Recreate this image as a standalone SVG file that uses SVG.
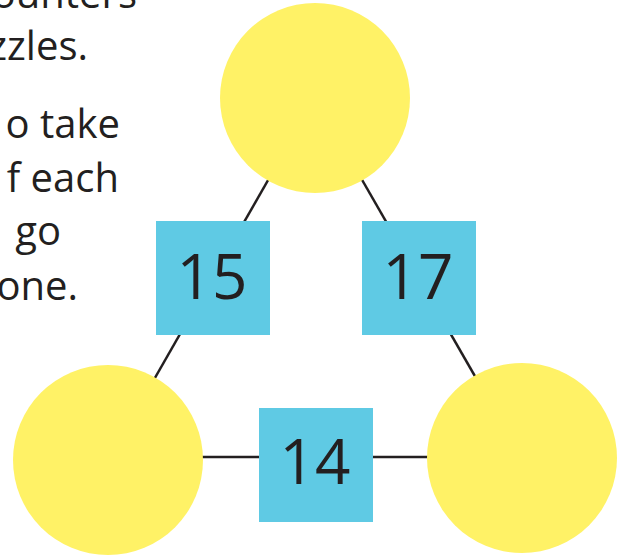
<svg xmlns="http://www.w3.org/2000/svg" width="625" height="555" viewBox="0 0 625 555">
<style>
.c{fill:#FFF266}
.b{fill:#5FCAE4}
.n{font-family:"Open Sans","Liberation Sans",sans-serif;font-size:62px;fill:#231F20;text-anchor:middle}
.t{font-family:"Open Sans","Liberation Sans",sans-serif;font-size:40px;fill:#231F20;text-anchor:end}
.l{stroke:#231F20;stroke-width:2.5;fill:none}
</style>
<rect width="625" height="555" fill="#fff"/>
<g id="text">
<text class="t" x="137" y="8">ounters</text>
<text class="t" x="88" y="60">zzles.</text>
<text class="t" x="120" y="138">o take</text>
<text class="t" x="119" y="192">f each</text>
<text class="t" x="61" y="245">go</text>
<text class="t" x="78" y="300">one.</text>
</g>
<g id="connectors">
<line class="l" x1="315" y1="98" x2="108" y2="460"/>
<line class="l" x1="315" y1="98" x2="522" y2="458"/>
<line class="l" x1="108" y1="457" x2="522" y2="457"/>
</g>
<g id="circle-top"><circle class="c" cx="315" cy="98" r="95"/></g>
<g id="circle-left"><circle class="c" cx="108" cy="460" r="95"/></g>
<g id="circle-right"><circle class="c" cx="522" cy="458" r="95"/></g>
<g id="box-15"><rect class="b" x="156" y="221" width="114" height="114"/><text class="n" x="212" y="299">15</text></g>
<g id="box-17"><rect class="b" x="362" y="221" width="114" height="114"/><text class="n" x="418" y="299">17</text></g>
<g id="box-14"><rect class="b" x="259" y="408" width="114" height="114"/><text class="n" x="315" y="484">14</text></g>
</svg>
